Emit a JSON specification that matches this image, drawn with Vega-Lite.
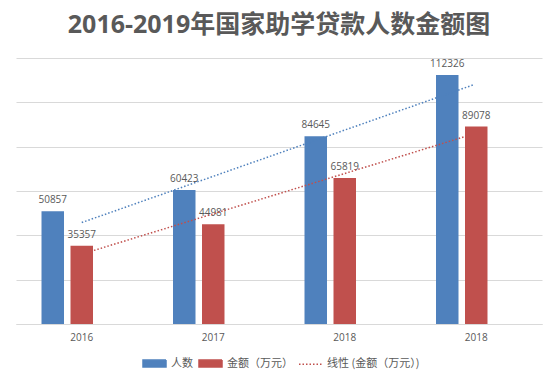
{
  "$schema": "https://vega.github.io/schema/vega-lite/v6.json",
  "width": 526,
  "height": 266,
  "autosize": {"type": "none"},
  "padding": {"left": 16, "top": 58, "right": 17, "bottom": 60},
  "background": "white",
  "title": {
    "text": "2016-2019年国家助学贷款人数金额图",
    "font": "Open Sans, Noto Sans CJK SC",
    "fontSize": 25,
    "fontWeight": "bold",
    "color": "#595959",
    "anchor": "middle",
    "offset": 20
  },
  "config": {
    "view": {"stroke": null},
    "font": "Noto Sans CJK SC",
    "axis": {"labelColor": "#595959", "labelFont": "Open Sans, Noto Sans CJK SC", "labelFontSize": 10}
  },
  "datasets": {
    "bars": [
      {"year": "2016", "series": "人数", "value": 50857},
      {"year": "2016", "series": "金额（万元）", "value": 35357},
      {"year": "2017", "series": "人数", "value": 60423},
      {"year": "2017", "series": "金额（万元）", "value": 44981},
      {"year": "2018", "series": "人数", "value": 84645},
      {"year": "2018", "series": "金额（万元）", "value": 65819},
      {"year": "2019", "series": "人数", "value": 112326},
      {"year": "2019", "series": "金额（万元）", "value": 89078}
    ],
    "trendBlue": [
      {"pos": 1.0, "value": 45768},
      {"pos": 3.98, "value": 107939}
    ],
    "trendRed": [
      {"pos": 1.093, "value": 33200, "series": "线性 (金额（万元）)"},
      {"pos": 3.916, "value": 84580, "series": "线性 (金额（万元）)"}
    ]
  },
  "layer": [
    {
      "data": {"name": "bars"},
      "encoding": {
        "x": {
          "field": "year", "type": "nominal",
          "scale": {"paddingInner": 0.388, "paddingOuter": 0.194},
          "axis": {
            "title": null, "ticks": false, "domain": true, "domainColor": "#D9D9D9",
            "labelAngle": 0, "labelPadding": 8,
            "labelExpr": "datum.value === '2019' ? '2018' : datum.value"
          }
        },
        "xOffset": {
          "field": "series", "type": "nominal",
          "scale": {"domain": ["人数", "金额（万元）", "pad"], "paddingInner": 0.224, "paddingOuter": 0}
        },
        "y": {
          "field": "value", "type": "quantitative",
          "scale": {"domain": [0, 120000], "nice": false},
          "axis": {
            "title": null, "labels": false, "ticks": false, "domain": false,
            "grid": true, "gridColor": "#D9D9D9", "gridWidth": 1,
            "values": [0, 20000, 40000, 60000, 80000, 100000, 120000]
          }
        }
      },
      "layer": [
        {
          "mark": {"type": "bar"},
          "encoding": {
            "color": {
              "field": "series", "type": "nominal",
              "scale": {
                "domain": ["人数", "金额（万元）", "线性 (金额（万元）)"],
                "range": ["#4F81BD", "#C0504D", "#C0504D"]
              },
              "legend": {
                "title": null,
                "orient": "none",
                "legendX": 126,
                "legendY": 293,
                "direction": "horizontal",
                "symbolSize": 529,
                "labelFont": "Noto Sans CJK SC",
                "labelFontSize": 11,
                "labelColor": "#595959",
                "labelOffset": 4,
                "columnPadding": 3,
                "encode": {
                  "symbols": {
                    "update": {
                      "shape": {"signal": "datum.value === '线性 (金额（万元）)' ? 'M-1,0H1' : 'M-1,-0.3H1V0.3H-1Z'"},
                      "fill": {"signal": "datum.value === '线性 (金额（万元）)' ? 'transparent' : (datum.value === '人数' ? '#4F81BD' : '#C0504D')"},
                      "stroke": {"signal": "datum.value === '线性 (金额（万元）)' ? '#C0504D' : 'transparent'"},
                      "strokeDash": {"signal": "datum.value === '线性 (金额（万元）)' ? [1.5, 2] : [1, 0]"},
                      "strokeWidth": {"value": 1.5},
                      "opacity": {"value": 1}
                    }
                  }
                }
              }
            }
          }
        },
        {
          "mark": {"type": "text", "baseline": "bottom", "dy": -6, "fontSize": 10, "color": "#595959", "font": "Open Sans"},
          "encoding": {
            "text": {"field": "value", "type": "quantitative", "format": "d"}
          }
        }
      ]
    },
    {
      "data": {"name": "trendBlue"},
      "mark": {"type": "line", "color": "#4F81BD", "strokeWidth": 1.5, "strokeDash": [1.5, 2]},
      "encoding": {
        "x": {"field": "pos", "type": "quantitative", "scale": {"domain": [0.5, 4.5], "nice": false, "zero": false}, "axis": null},
        "y": {"field": "value", "type": "quantitative"}
      }
    },
    {
      "data": {"name": "trendRed"},
      "mark": {"type": "line", "strokeWidth": 1.5, "strokeDash": [1.5, 2]},
      "encoding": {
        "x": {"field": "pos", "type": "quantitative", "scale": {"domain": [0.5, 4.5], "nice": false, "zero": false}, "axis": null},
        "y": {"field": "value", "type": "quantitative"},
        "color": {"field": "series", "type": "nominal"}
      }
    }
  ],
  "resolve": {"scale": {"x": "independent"}}
}
